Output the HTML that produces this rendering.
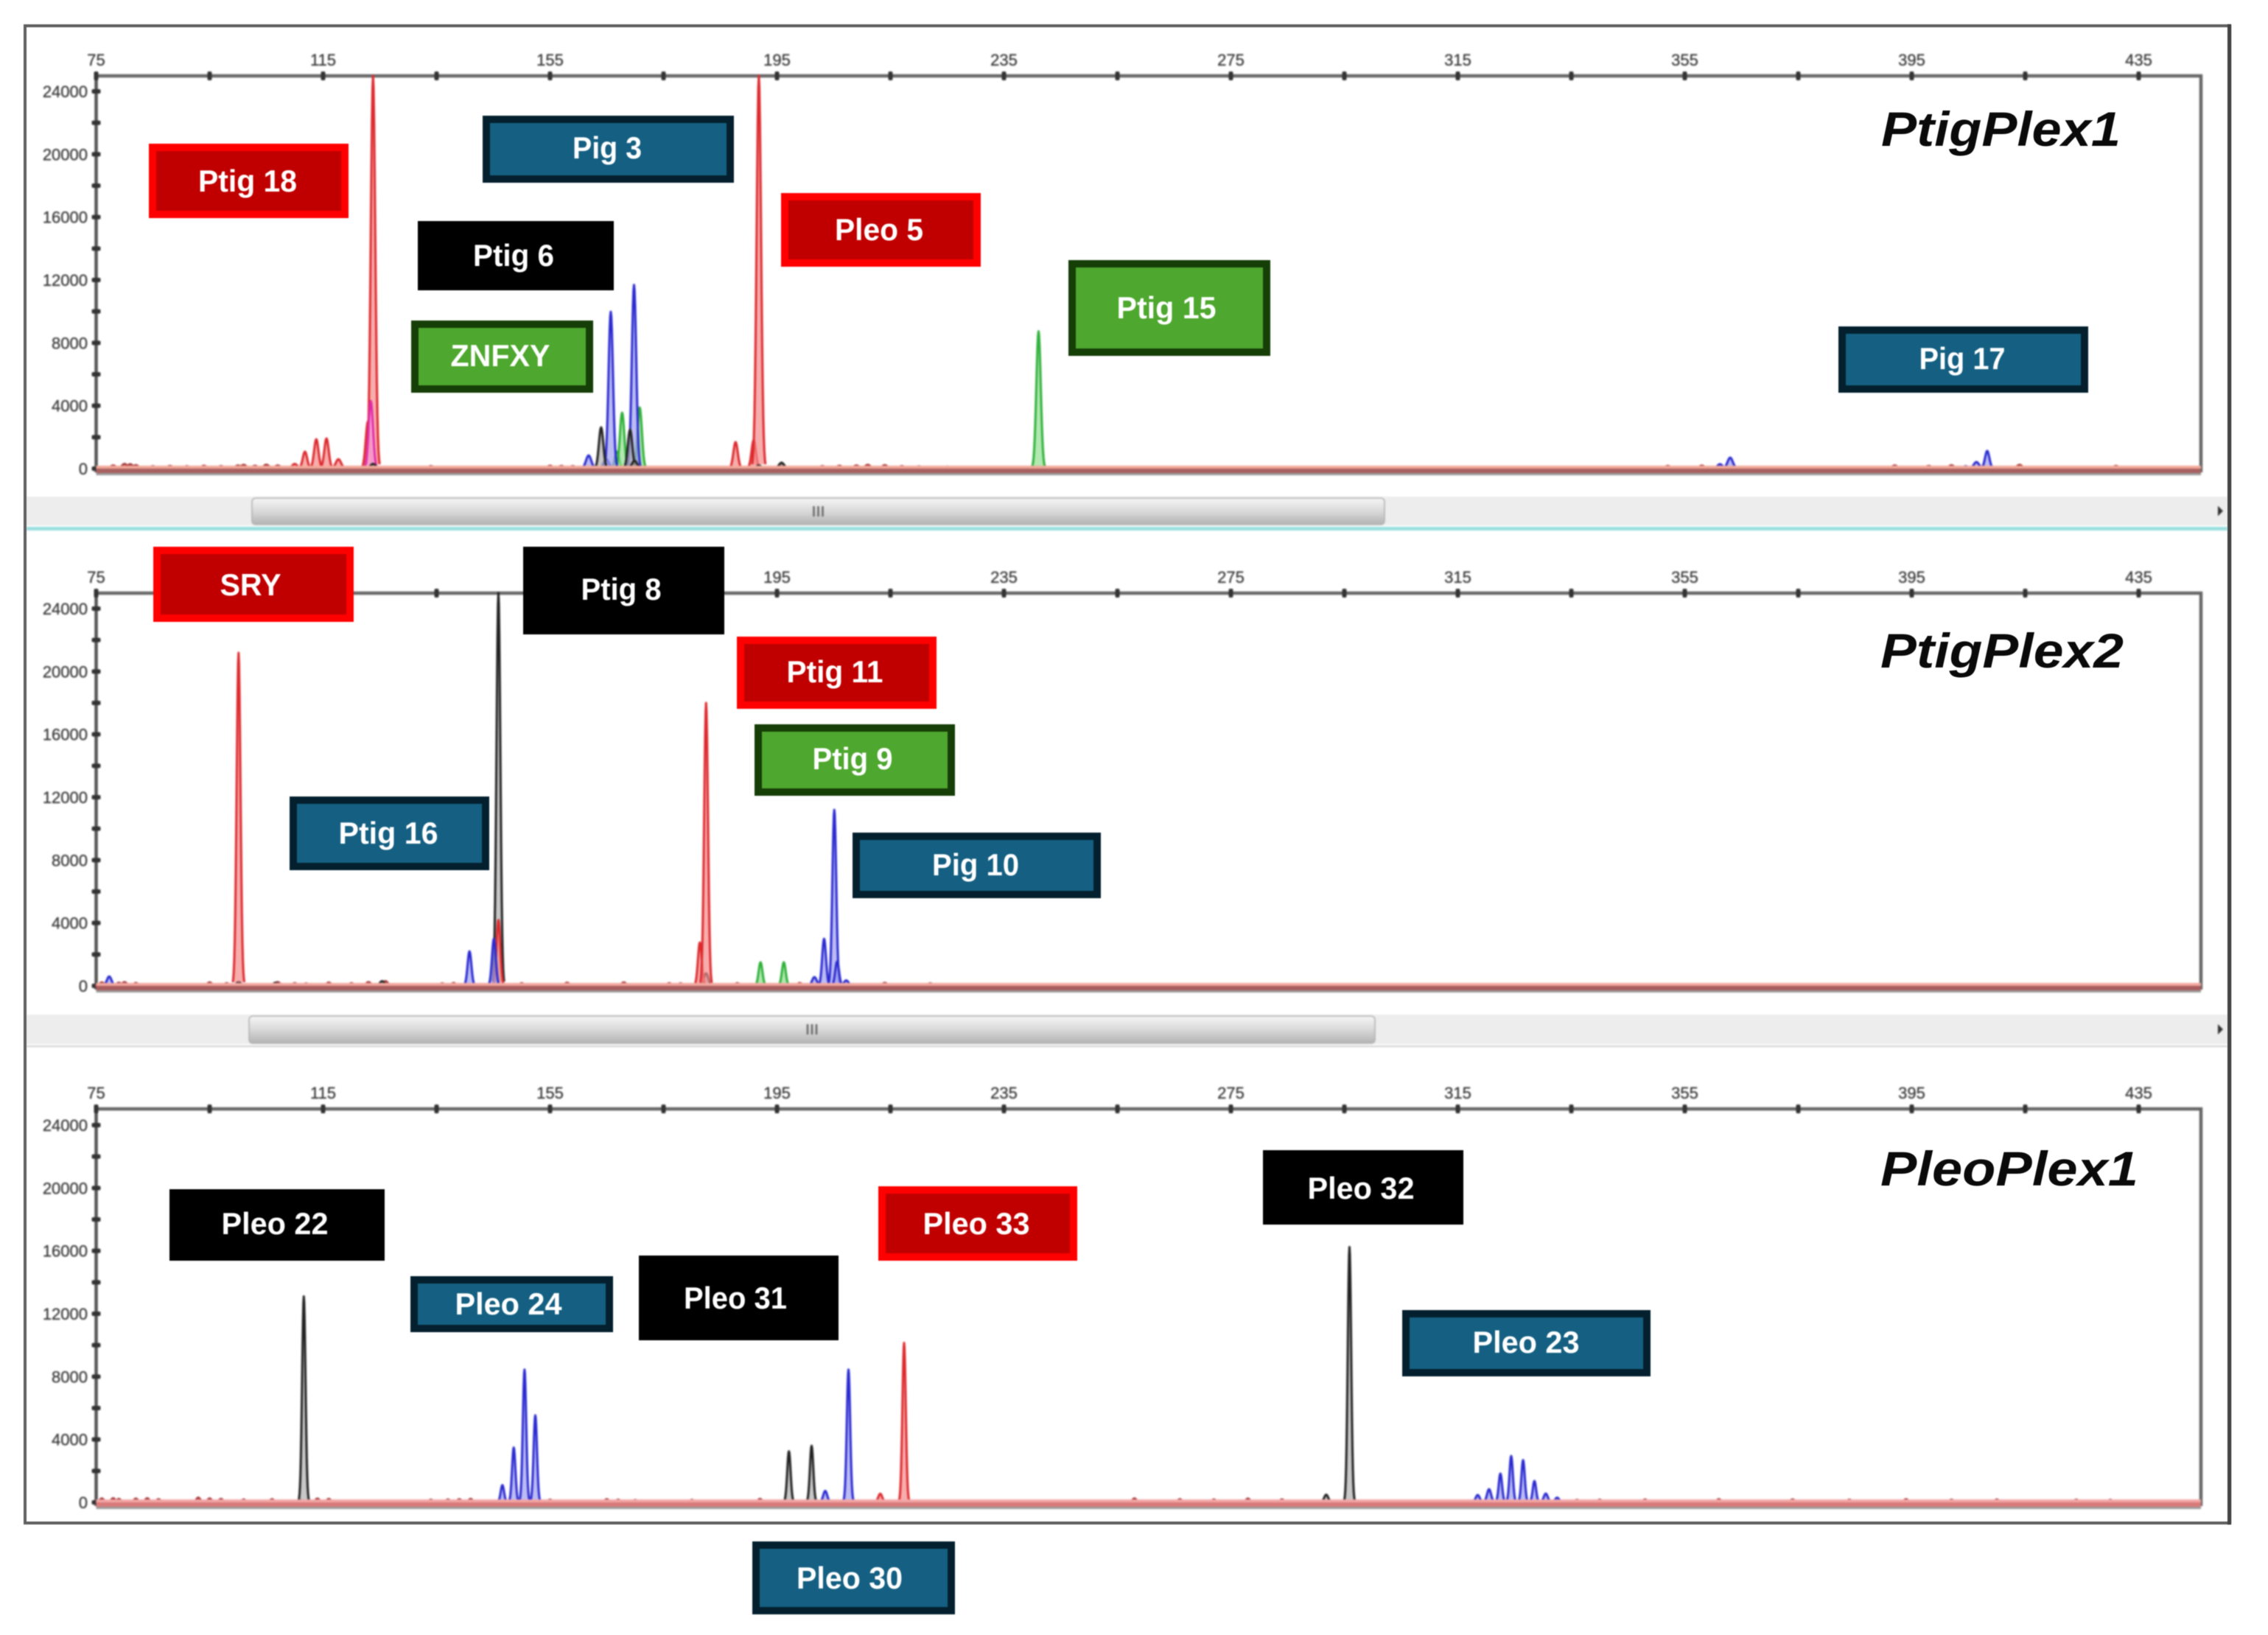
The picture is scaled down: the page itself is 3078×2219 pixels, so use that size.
<!DOCTYPE html>
<html lang="en">
<head>
<meta charset="utf-8">
<title>Multiplex electropherograms</title>
<style>
html,body{margin:0;padding:0;background:#fff;}
svg{display:block;font-family:"Liberation Sans",sans-serif;}
#traces{filter:blur(1px);}
.tick-label{font-size:22px;fill:#3c3c3c;stroke:#3c3c3c;stroke-width:0.35px;}
.tag{filter:blur(0.7px);}
.tag text{font-size:42px;font-weight:bold;fill:#fff;text-anchor:middle;}
.red{fill:#c00000;stroke:#ff0000;stroke-width:10;}
.blue{fill:#156082;stroke:#04202f;stroke-width:10;}
.green{fill:#4ea72e;stroke:#163e07;stroke-width:10;}
.black{fill:#000;}
.plex-title{font-size:66px;font-weight:bold;font-style:italic;fill:#0a0a0a;filter:blur(0.5px);}
.frame{filter:blur(0.6px);}
</style>
</head>
<body>
<svg id="chart" xmlns="http://www.w3.org/2000/svg" width="3078" height="2219" viewBox="0 0 3078 2219">
<rect x="0" y="0" width="3078" height="2219" fill="#fff"/>
<g id="traces"></g>

<rect class="frame" x="34" y="35" width="2992" height="2032" fill="none" stroke="#5f5f5f" stroke-width="4"/>
<rect class="frame" x="3023" y="33" width="5" height="2036" fill="#444"/>

<text class="plex-title" x="2553" y="198" textLength="325" lengthAdjust="spacingAndGlyphs">PtigPlex1</text>
<text class="plex-title" x="2552" y="906" textLength="330" lengthAdjust="spacingAndGlyphs">PtigPlex2</text>
<text class="plex-title" x="2552" y="1609" textLength="350" lengthAdjust="spacingAndGlyphs">PleoPlex1</text>

<g class="tag"><rect class="red" x="207" y="200" width="261" height="91"/><text x="336" y="260" textLength="134" lengthAdjust="spacingAndGlyphs">Ptig 18</text></g>
<g class="tag"><rect class="blue" x="660" y="162" width="331" height="81"/><text x="824" y="215" textLength="94" lengthAdjust="spacingAndGlyphs">Pig 3</text></g>
<g class="tag"><rect class="black" x="567" y="300" width="266" height="94"/><text x="697" y="361" textLength="110" lengthAdjust="spacingAndGlyphs">Ptig 6</text></g>
<g class="tag"><rect class="green" x="563" y="440" width="237" height="88"/><text x="679" y="497" textLength="135" lengthAdjust="spacingAndGlyphs">ZNFXY</text></g>
<g class="tag"><rect class="red" x="1065" y="267" width="261" height="90"/><text x="1193" y="326" textLength="120" lengthAdjust="spacingAndGlyphs">Pleo 5</text></g>
<g class="tag"><rect class="green" x="1455" y="358" width="264" height="120"/><text x="1583" y="432" textLength="135" lengthAdjust="spacingAndGlyphs">Ptig 15</text></g>
<g class="tag"><rect class="blue" x="2500" y="448" width="329" height="80"/><text x="2663" y="501" textLength="117" lengthAdjust="spacingAndGlyphs">Pig 17</text></g>

<g class="tag"><rect class="red" x="213" y="747" width="262" height="92"/><text x="340" y="808" textLength="83" lengthAdjust="spacingAndGlyphs">SRY</text></g>
<g class="tag"><rect class="black" x="710" y="742" width="273" height="119"/><text x="843" y="814" textLength="109" lengthAdjust="spacingAndGlyphs">Ptig 8</text></g>
<g class="tag"><rect class="red" x="1005" y="869" width="261" height="88"/><text x="1133" y="926" textLength="131" lengthAdjust="spacingAndGlyphs">Ptig 11</text></g>
<g class="tag"><rect class="green" x="1029" y="988" width="262" height="87"/><text x="1157" y="1044" textLength="109" lengthAdjust="spacingAndGlyphs">Ptig 9</text></g>
<g class="tag"><rect class="blue" x="398" y="1086" width="261" height="90"/><text x="527" y="1145" textLength="135" lengthAdjust="spacingAndGlyphs">Ptig 16</text></g>
<g class="tag"><rect class="blue" x="1162" y="1135" width="327" height="79"/><text x="1324" y="1188" textLength="118" lengthAdjust="spacingAndGlyphs">Pig 10</text></g>

<g class="tag"><rect class="black" x="230" y="1614" width="292" height="97"/><text x="373" y="1675" textLength="145" lengthAdjust="spacingAndGlyphs">Pleo 22</text></g>
<g class="tag"><rect class="blue" x="562" y="1737" width="265" height="66"/><text x="690" y="1784" textLength="145" lengthAdjust="spacingAndGlyphs">Pleo 24</text></g>
<g class="tag"><rect class="black" x="867" y="1704" width="271" height="115"/><text x="998" y="1776" textLength="140" lengthAdjust="spacingAndGlyphs">Pleo 31</text></g>
<g class="tag"><rect class="red" x="1197" y="1615" width="260" height="91"/><text x="1325" y="1675" textLength="145" lengthAdjust="spacingAndGlyphs">Pleo 33</text></g>
<g class="tag"><rect class="blue" x="1026" y="2097" width="265" height="89"/><text x="1153" y="2156" textLength="144" lengthAdjust="spacingAndGlyphs">Pleo 30</text></g>
<g class="tag"><rect class="black" x="1714" y="1561" width="272" height="101"/><text x="1847" y="1627" textLength="145" lengthAdjust="spacingAndGlyphs">Pleo 32</text></g>
<g class="tag"><rect class="blue" x="1908" y="1783" width="327" height="80"/><text x="2071" y="1836" textLength="145" lengthAdjust="spacingAndGlyphs">Pleo 23</text></g>
</svg>

<script>
// Axis values
const sizeTicks = [75,95,115,135,155,175,195,215,235,255,275,295,315,335,355,375,395,415,435];
const sizeTickLabels = ['75','','115','','155','','195','','235','','275','','315','','355','','395','','435'];
const rfuTicks = [0,2000,4000,6000,8000,10000,12000,14000,16000,18000,20000,22000,24000];
const rfuTickLabels = ['0','','4000','','8000','','12000','','16000','','20000','','24000'];

// PtigPlex1 peaks (fragment size, RFU height)
const plex1RedSizes = [110,111.8,113.8,115.6,117.7,122.9,123.8,187.7,190.9,191.8];
const plex1RedHeights = [300,1080,1870,1920,600,3000,25000,1690,1830,25000];
const plex1MagentaSizes = [123.4];
const plex1MagentaHeights = [4300];
const plex1BlueSizes = [161.8,164.9,165.7,169.8,361.2,363,404.5,406.4,408.3];
const plex1BlueHeights = [840,600,9980,11690,280,700,150,420,1125];
const plex1BlackSizes = [123.8,164,169.1,169.9,191.8,195.8];
const plex1BlackHeights = [300,2625,2480,500,200,375];
const plex1GreenSizes = [166.8,167.7,170.8,241.1];
const plex1GreenHeights = [1080,3560,3890,8740];
const plex1NoiseSizes = [78,80,81,82,85,88,91,94,97,100,101,103,105,107,134,155,157,159,196,203,206,209,211,214,217,220,225,352,358,392,398,402,414,431];
const plex1NoiseHeights = [200,300,280,220,150,170,150,180,160,200,240,180,250,200,160,180,170,160,220,160,180,200,240,220,160,140,130,170,190,200,170,210,240,170];

// PtigPlex2 peaks
const plex2RedSizes = [100.1,145.9,181.4,182.5];
const plex2RedHeights = [21190,4190,2760,18000];
const plex2BlackSizes = [100.1,106.6,125.4,145.9,182.5];
const plex2BlackHeights = [250,200,300,25000,800];
const plex2BlueSizes = [77.3,140.8,145.1,201.6,203.3,205.1,205.6,207.2];
const plex2BlueHeights = [600,2200,3000,560,3000,11200,1550,350];
const plex2GreenSizes = [192.1,196.2];
const plex2GreenHeights = [1500,1500];
const plex2NoiseSizes = [76,79,80,82,95,98,107,110,112,116,120,123,126,136,138,150,158,168,176,178,188,199,214,222];
const plex2NoiseHeights = [220,200,240,180,220,170,240,170,150,210,170,240,300,160,180,170,200,220,170,160,170,180,190,160];

// PleoPlex1 peaks
const plex3BlackSizes = [111.6,197.1,201.1,291.8,295.9];
const plex3BlackHeights = [13100,3250,3600,490,16240];
const plex3BlueSizes = [146.6,148.6,150.5,152.4,203.5,207.6,318.5,320.5,322.5,324.4,326.5,328.5,330.5,332.5];
const plex3BlueHeights = [1100,3490,8450,5540,730,8450,470,840,1830,2950,2690,1360,560,300];
const plex3RedSizes = [213.2,217.4];
const plex3RedHeights = [550,10150];
const plex3NoiseSizes = [76,78,79,82,84,86,93,95,97,101,106,111,114,116,134,137,139,141,155,165,167,170,180,192,258,266,272,278,284,336,340,348,361,374,384,394,402,410,424,430];
const plex3NoiseHeights = [250,260,220,240,260,200,300,250,220,180,200,160,240,220,170,180,200,220,170,200,170,150,160,220,250,200,180,240,190,160,170,180,200,190,170,200,170,180,170,160];

// Panel layout and series wiring
const dyes = {
  red:{stroke:'#dc2a2e',fill:'#f58a8a'},
  blue:{stroke:'#2a2ad0',fill:'#a0a0f0'},
  black:{stroke:'#222222',fill:'#b0b0b0'},
  green:{stroke:'#2fb03a',fill:'#90e090'},
  magenta:{stroke:'#e02aa8',fill:'#f6a6e6'},
  noise:{stroke:'#a83a3a',fill:'#c86a6a'}
};
const panels = [
  {id:'ptigplex1',top:103,zero:636,thumbX:342,thumbEnd:1879,barTop:674,barBottom:713,sigma:3,band:['#f2a99a','#a86060'],
   series:[['noise',plex1NoiseSizes,plex1NoiseHeights],['red',plex1RedSizes,plex1RedHeights],['magenta',plex1MagentaSizes,plex1MagentaHeights],['green',plex1GreenSizes,plex1GreenHeights],['blue',plex1BlueSizes,plex1BlueHeights],['black',plex1BlackSizes,plex1BlackHeights]]},
  {id:'ptigplex2',top:805,zero:1338,thumbX:338,thumbEnd:1866,barTop:1377,barBottom:1417,sigma:2.6,band:['#f2a8a0','#a85c5c'],
   series:[['noise',plex2NoiseSizes,plex2NoiseHeights],['black',plex2BlackSizes,plex2BlackHeights],['red',plex2RedSizes,plex2RedHeights],['green',plex2GreenSizes,plex2GreenHeights],['blue',plex2BlueSizes,plex2BlueHeights]]},
  {id:'pleoplex1',top:1505,zero:2039,sigma:2.3,band:['#f2a6a6','#d87a7a'],
   series:[['noise',plex3NoiseSizes,plex3NoiseHeights],['black',plex3BlackSizes,plex3BlackHeights],['blue',plex3BlueSizes,plex3BlueHeights],['red',plex3RedSizes,plex3RedHeights]]}
];

const NS = 'http://www.w3.org/2000/svg';
const layer = document.getElementById('traces');
const AXIS_LEFT = 130.5, AXIS_RIGHT = 2987, FRAME_LEFT = 36, FRAME_RIGHT = 3023;

function xScale(size){ return AXIS_LEFT + (size - 75) * 7.7; }
function yScale(panel, rfu){ return panel.zero - rfu * 512 / 24000; }

function make(tag, attrs, parent){
  const el = document.createElementNS(NS, tag);
  for (const k in attrs) el.setAttribute(k, attrs[k]);
  (parent || layer).appendChild(el);
  return el;
}

function peakPath(panel, size, rfu){
  const cx = xScale(size);
  const sig = rfu < 1000 ? panel.sigma * 1.2 : panel.sigma;
  let d = '';
  for (let k = -3; k <= 3; k += 0.25){
    const h = rfu * Math.exp(-k * k / 2);
    d += (d ? 'L' : 'M') + (cx + k * sig).toFixed(2) + ' ' + yScale(panel, h).toFixed(2);
  }
  return d;
}

panels.forEach(function(panel){
  // scrollbar
  if (panel.barTop){
    const track = make('rect',{x:FRAME_LEFT,y:panel.barTop,width:FRAME_RIGHT-FRAME_LEFT,height:panel.barBottom-panel.barTop,fill:'#ededed'});
    
    
    const gradId = panel.id + '-thumb-grad';
    const defs = make('defs',{});
    const grad = make('linearGradient',{id:gradId,x1:0,y1:0,x2:0,y2:1},defs);
    make('stop',{offset:'0','stop-color':'#f6f6f6'},grad);
    make('stop',{offset:'0.45','stop-color':'#dcdcdc'},grad);
    make('stop',{offset:'1','stop-color':'#b4b4b4'},grad);
    const thumb = make('rect',{x:panel.thumbX,y:panel.barTop+2,width:panel.thumbEnd-panel.thumbX,height:panel.barBottom-panel.barTop-3,rx:5,fill:'url(#'+gradId+')',stroke:'#b0b0b0','stroke-width':1.5});
    
    
    const mid = (panel.thumbX + panel.thumbEnd) / 2;
    const grip = make('path',{d:'M'+(mid-6)+' '+(panel.barTop+13)+'v14M'+mid+' '+(panel.barTop+13)+'v14M'+(mid+6)+' '+(panel.barTop+13)+'v14',stroke:'#666','stroke-width':2.5,fill:'none'});
    
    
    const midY = (panel.barTop + panel.barBottom) / 2;
    const arrow = make('path',{d:'M3010 '+(midY-7)+'l7 7l-7 7z',fill:'#333'});
    
    
  }

  // plot border
  const border = make('path',{d:'M'+AXIS_LEFT+' '+panel.top+'H'+AXIS_RIGHT+'V'+(panel.zero+5),fill:'none',stroke:'#666','stroke-width':4.5});
  
  
  const yAxis = make('line',{x1:AXIS_LEFT,x2:AXIS_LEFT,y1:panel.top,y2:panel.zero+5,stroke:'#555','stroke-width':4.5});
  
  

  // x ticks
  sizeTicks.forEach(function(size, i){
    const tick = make('rect',{x:xScale(size)-3,y:panel.top-6,width:6,height:12,rx:2,fill:'#333'});
    
    
    if (sizeTickLabels[i]){
      const lab = make('text',{x:xScale(size),y:panel.top-14,'text-anchor':'middle','class':'tick-label'});
      lab.textContent = sizeTickLabels[i];
      
      
    }
  });

  // y ticks
  rfuTicks.forEach(function(rfu, i){
    const tick = make('rect',{x:AXIS_LEFT-6,y:yScale(panel,rfu)-3,width:12,height:6,rx:2,fill:'#333'});
    
    
    if (rfuTickLabels[i]){
      const lab = make('text',{x:119,y:yScale(panel,rfu)+8,'text-anchor':'end','class':'tick-label'});
      lab.textContent = rfuTickLabels[i];
      
      
    }
  });

  // peaks
  panel.series.forEach(function(s){
    const dye = dyes[s[0]];
    s[1].forEach(function(size, i){
      const peak = make('path',{d:peakPath(panel,size,s[2][i]),fill:dye.fill,'fill-opacity':0.7,stroke:dye.stroke,'stroke-width':3,'stroke-linejoin':'round'});
      
      
    });
  });

  // baseline band
  const pale = make('rect',{x:AXIS_LEFT,y:panel.zero-4,width:AXIS_RIGHT-AXIS_LEFT,height:4,fill:panel.band[0]});
  
  
  const dark = make('rect',{x:AXIS_LEFT,y:panel.zero,width:AXIS_RIGHT-AXIS_LEFT,height:6,fill:panel.band[1]});
  
  
  const under = make('rect',{x:AXIS_LEFT,y:panel.zero+6,width:AXIS_RIGHT-AXIS_LEFT,height:3,fill:'#9a9a9a'});
  
  
});

const teal = make('rect',{x:FRAME_LEFT,y:715,width:FRAME_RIGHT-FRAME_LEFT,height:5,fill:'#9adfe0'});


const lower = make('rect',{x:FRAME_LEFT,y:1419,width:FRAME_RIGHT-FRAME_LEFT,height:2,fill:'#cfcfcf'});


</script>
</body>
</html>
